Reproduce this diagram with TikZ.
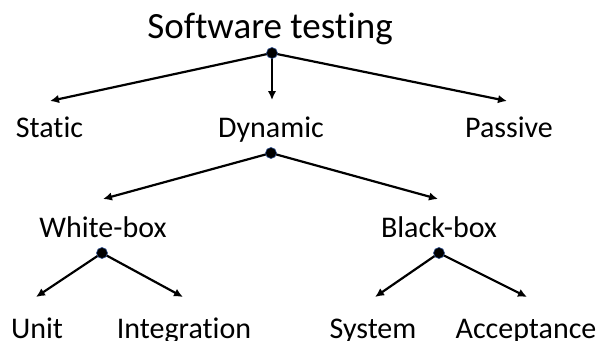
\documentclass[tikz,border=0pt]{standalone}
\usepackage{fontspec}
\setmainfont{Carlito}[Ligatures={NoCommon,NoContextual}]
\usetikzlibrary{arrows.meta}
\definecolor{hubrim}{HTML}{2F4F8F}
\begin{document}
\begin{tikzpicture}[x=1pt,y=-1pt,
  lbl/.style={anchor=base, inner sep=0pt, font=\fontsize{30}{36}\selectfont},
  ttl/.style={anchor=base, inner sep=0pt, font=\fontsize{37}{44}\selectfont},
  hub/.style={circle, fill=black, draw=hubrim, line width=0.6pt, minimum size=11pt, inner sep=0pt},
  link/.style={line width=2.2pt, -{Latex[length=9pt,width=8.5pt]}}]
\useasboundingbox (0,0) rectangle (601,340);

% labels
\node[ttl] (root) at (270,38) {Software testing};
\node[lbl] (static)  at (49.5,137) {Static};
\node[lbl] (dynamic) at (271,137) {Dynamic};
\node[lbl] (passive) at (509,137) {Passive};
\node[lbl] (white) at (103,237) {White-box};
\node[lbl] (black) at (439,237) {Black-box};
\node[lbl] (unit)  at (37,338) {Unit};
\node[lbl] (integ) at (184,338) {Integration};
\node[lbl] (system) at (373,338) {System};
\node[lbl] (accept) at (526,338) {Acceptance};

% branch points
\coordinate (h0) at (272,53);
\coordinate (h1) at (271,153);
\coordinate (h2) at (102,253);
\coordinate (h3) at (439,253);

% arrow ends
\coordinate (tStatic)  at (50,101);
\coordinate (tDynamic) at (272,100);
\coordinate (tPassive) at (507,101);
\coordinate (tWhite) at (103,199);
\coordinate (tBlack) at (438,199);
\coordinate (tUnit)  at (36,297);
\coordinate (tInteg) at (183,297);
\coordinate (tSystem) at (375,297);
\coordinate (tAccept) at (527,297);

% connectors
\draw[link] (h0) -- (tStatic);
\draw[link] (h0) -- (tDynamic);
\draw[link] (h0) -- (tPassive);
\draw[link] (h1) -- (tWhite);
\draw[link] (h1) -- (tBlack);
\draw[link] (h2) -- (tUnit);
\draw[link] (h2) -- (tInteg);
\draw[link] (h3) -- (tSystem);
\draw[link] (h3) -- (tAccept);

% dots on top of the lines
\node[hub] (d0) at (h0) {};
\node[hub] (d1) at (h1) {};
\node[hub] (d2) at (h2) {};
\node[hub] (d3) at (h3) {};
\end{tikzpicture}
\end{document}
